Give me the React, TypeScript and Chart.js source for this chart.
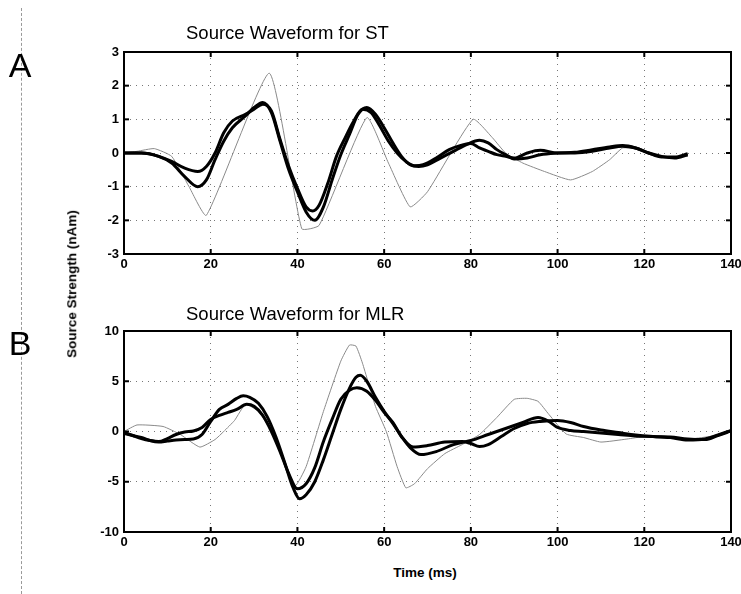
import React, { useEffect, useRef } from 'react';
import { Chart, registerables } from 'chart.js';

Chart.register(...registerables);

// ---------- Panel A: Source Waveform for ST ----------
const stTime1 = [0,4,8,11,14,17,19,21,23,25,28,30,32,34,36,38,40,42,44,46,48,50,52,54,56,58,60,62,64,66,68,70,73,76,79,82,84,86,88,90,93,96,100,104,108,112,115,118,121,124,127,130];
const stVals1 = [0,0,-0.1,-0.3,-0.7,-1.0,-0.8,-0.2,0.35,0.75,1.1,1.35,1.5,1.2,0.35,-0.5,-1.15,-1.75,-2.0,-1.6,-0.8,-0.05,0.55,1.15,1.35,1.15,0.75,0.3,-0.1,-0.35,-0.4,-0.35,-0.15,0.05,0.25,0.38,0.3,0.1,-0.05,-0.18,-0.15,-0.05,0,0.02,0.1,0.18,0.22,0.15,0.0,-0.12,-0.12,-0.02];

const stTime2 = [0,4,8,11,14,17,19,21,23,25,28,30,32,34,36,38,40,42,43.5,45,47,49,51,53,55,57,59,61,63,65,67,69,72,75,77.5,80,82,84,86,88,90,93,96,100,104,108,112,115,118,121,124,127,130];
const stVals2 = [0,0,-0.1,-0.25,-0.45,-0.55,-0.4,0.0,0.6,0.95,1.15,1.3,1.45,1.25,0.4,-0.4,-1.05,-1.6,-1.72,-1.55,-0.9,-0.1,0.45,0.95,1.3,1.2,0.8,0.35,0.0,-0.25,-0.38,-0.35,-0.15,0.1,0.22,0.28,0.15,0.05,-0.05,-0.1,-0.15,0.0,0.08,0,0.0,0.05,0.15,0.2,0.15,0.0,-0.1,-0.15,-0.05];

const stTimeG = [0,3,7,11,15,19,33.5,41,45,56,61,66,70,80.5,85,88,92,97,103,108,112,115,118,122,126,130];
const stValsG = [0,0.05,0.13,-0.1,-1.0,-1.85,2.37,-2.25,-2.15,1.05,-0.3,-1.6,-1.15,1.0,0.45,0.0,-0.3,-0.55,-0.8,-0.55,-0.2,0.15,0.12,-0.05,-0.15,-0.1];

// ---------- Panel B: Source Waveform for MLR ----------
const mlrTime1 = [0,2,4,6,8,10,12,14,16,18,20,22,24,26,27.5,29,31,33,35,37,39,40.5,42,44,46,48,50,52,53.5,54.5,56,58,60,62,64,66,68.5,72,76,80,84,88,92,95.5,98,100,103,106,110,114,118,122,126,130,134,137,140];
const mlrVals1 = [-0.2,-0.4,-0.6,-0.9,-1.05,-0.95,-0.85,-0.8,-0.75,-0.3,1.0,2.2,2.7,3.3,3.55,3.4,2.8,1.5,-0.5,-3.0,-5.6,-6.7,-6.3,-5.0,-2.8,-0.3,2.2,4.3,5.4,5.6,5.0,3.4,2.0,0.8,-0.5,-1.6,-2.3,-2.0,-1.3,-0.9,-0.3,0.3,0.9,1.4,1.0,0.4,0.1,0.0,-0.15,-0.3,-0.45,-0.5,-0.6,-0.85,-0.75,-0.35,0.1];

const mlrTime2 = [0,2,4,6,8,10,12,14,16,18,20,22,24,26,28.3,30,32,34,36,38,40,42,44,46,48,50,52,53.7,56,58,60,62,64,66.7,70,74,78,80,82,84,87,90,93,96,100,103,106,110,114,118,122,126,130,134,137,140];
const mlrVals2 = [-0.1,-0.4,-0.7,-0.9,-1.0,-0.7,-0.3,-0.05,0.05,0.4,1.2,1.6,1.9,2.2,2.7,2.5,1.6,0.0,-2.0,-4.2,-5.7,-5.2,-3.6,-1.0,1.2,3.2,4.1,4.35,4.0,3.1,1.9,0.9,-0.5,-1.55,-1.4,-1.05,-1.0,-1.2,-1.5,-1.3,-0.5,0.3,0.8,1.0,1.1,0.9,0.5,0.15,-0.1,-0.35,-0.5,-0.55,-0.75,-0.8,-0.4,0.05];

const mlrTimeG = [0,3,9,13,17.5,21,23,25.5,28,31,34,37,39.5,42,46,50,52,53.5,55,58,60.5,63,65,67,70,74,78,82,86,90,93,95.5,98,102,106,110,116,120,125,130,135,140];
const mlrValsG = [0,0.65,0.5,-0.3,-1.55,-0.8,0.0,1.1,2.7,2.0,0.0,-3.0,-5.4,-3.5,2.0,7.0,8.6,8.5,6.8,2.5,0.0,-3.5,-5.6,-5.2,-3.7,-2.2,-1.3,-0.3,1.4,3.2,3.3,3.0,1.7,-0.25,-0.6,-1.05,-0.75,-0.5,-0.55,-0.75,-0.5,0.0];

// ---------- Axes ----------
const timeMin = 0;
const timeMax = 140;
const timeStep = 20;
const stYMin = -3, stYMax = 3, stYStep = 1;
const mlrYMin = -10, mlrYMax = 10, mlrYStep = 5;

const titleST = 'Source Waveform for ST';
const titleMLR = 'Source Waveform for MLR';
const yTitle = 'Source Strength (nAm)';
const xTitle = 'Time (ms)';

const toPts = (t: number[], v: number[]) => t.map((x, i) => ({ x, y: v[i] }));

const tickFont = { family: "'Liberation Sans Narrow', 'Liberation Sans', Arial, sans-serif", size: 13, weight: 'bold' as const };

const framePlugin = {
  id: 'frame',
  afterDatasetsDraw(chart: any) {
    const { ctx, chartArea: a, scales } = chart;
    ctx.save();
    ctx.strokeStyle = '#000';
    ctx.lineWidth = 2;
    ctx.strokeRect(a.left, a.top, a.right - a.left, a.bottom - a.top);
    const tl = 5;
    const seg = (x1: number, y1: number, x2: number, y2: number) => {
      ctx.beginPath();
      ctx.moveTo(x1, y1);
      ctx.lineTo(x2, y2);
      ctx.stroke();
    };
    scales.x.ticks.forEach((t: any) => {
      const px = scales.x.getPixelForValue(t.value);
      seg(px, a.top, px, a.top + tl);
      seg(px, a.bottom, px, a.bottom - tl);
    });
    scales.y.ticks.forEach((t: any) => {
      const py = scales.y.getPixelForValue(t.value);
      seg(a.left, py, a.left + tl, py);
      seg(a.right, py, a.right - tl, py);
    });
    ctx.restore();
  },
};

function makeChart(canvas: HTMLCanvasElement, padTop: number, yMin: number, yMax: number, yStep: number, s1: any[], s2: any[], sg: any[]) {
  return new Chart(canvas, {
    type: 'line',
    data: {
      datasets: [
        { data: s1, borderColor: '#000', borderWidth: 3, pointRadius: 0, fill: false, cubicInterpolationMode: 'monotone' },
        { data: s2, borderColor: '#000', borderWidth: 3, pointRadius: 0, fill: false, cubicInterpolationMode: 'monotone' },
        { data: sg, borderColor: '#8a8a8a', borderWidth: 1, pointRadius: 0, fill: false, tension: 0.15 },
      ],
    },
    options: {
      responsive: false,
      animation: false,
      events: [],
      layout: { padding: { top: padTop, right: 10, left: 0, bottom: 0 } },
      plugins: { legend: { display: false }, tooltip: { enabled: false }, title: { display: false } },
      scales: {
        x: {
          type: 'linear',
          min: timeMin,
          max: timeMax,
          ticks: { stepSize: timeStep, color: '#000', font: tickFont, padding: 3, maxRotation: 0 },
          grid: { color: '#777', lineWidth: 1, drawTicks: false },
          border: { display: false, dash: [1, 5] },
          afterFit: (s: any) => { s.height = 24; s.paddingLeft = 0; s.paddingRight = 0; },
        },
        y: {
          type: 'linear',
          min: yMin,
          max: yMax,
          ticks: { stepSize: yStep, color: '#000', font: tickFont, padding: 5 },
          grid: { color: '#777', lineWidth: 1, drawTicks: false },
          border: { display: false, dash: [1, 5] },
          afterFit: (s: any) => { s.width = 124; },
        },
      },
    },
    plugins: [framePlugin],
  } as any);
}

export default function App() {
  const refA = useRef<HTMLCanvasElement>(null);
  const refB = useRef<HTMLCanvasElement>(null);

  useEffect(() => {
    const a = makeChart(refA.current!, 52, stYMin, stYMax, stYStep, toPts(stTime1, stVals1), toPts(stTime2, stVals2), toPts(stTimeG, stValsG));
    const b = makeChart(refB.current!, 51, mlrYMin, mlrYMax, mlrYStep, toPts(mlrTime1, mlrVals1), toPts(mlrTime2, mlrVals2), toPts(mlrTimeG, mlrValsG));
    return () => { a.destroy(); b.destroy(); };
  }, []);

  const sans = "'Liberation Sans', Arial, sans-serif";
  return (
    <div style={{ position: 'absolute', left: 0, top: 0, width: 741, height: 594, background: '#fff', overflow: 'hidden' }}>
      <div style={{ position: 'absolute', left: 21, top: 8, width: 0, height: 586, borderLeft: '1px dashed #999' }} />
      <canvas ref={refA} width={741} height={278} style={{ position: 'absolute', left: 0, top: 0, width: 741, height: 278 }} />
      <canvas ref={refB} width={741} height={276} style={{ position: 'absolute', left: 0, top: 280, width: 741, height: 276 }} />
      <div style={{ position: 'absolute', left: 186, top: 24, fontFamily: sans, fontSize: 18.5, lineHeight: 1, whiteSpace: 'nowrap', color: '#000' }}>{titleST}</div>
      <div style={{ position: 'absolute', left: 186, top: 305, fontFamily: sans, fontSize: 18.5, lineHeight: 1, whiteSpace: 'nowrap', color: '#000' }}>{titleMLR}</div>
      <div style={{ position: 'absolute', left: 72, top: 284, transform: 'translate(-50%, -50%) rotate(-90deg)', fontFamily: sans, fontWeight: 'bold', fontSize: 13.5, lineHeight: 1, whiteSpace: 'nowrap', color: '#000' }}>{yTitle}</div>
      <div style={{ position: 'absolute', left: 425, top: 573, transform: 'translate(-50%, -50%)', fontFamily: sans, fontWeight: 'bold', fontSize: 13.5, lineHeight: 1, whiteSpace: 'nowrap', color: '#000' }}>{xTitle}</div>
      <div style={{ position: 'absolute', left: 20, top: 65, transform: 'translate(-50%, -50%)', fontFamily: sans, fontSize: 34, lineHeight: 1, color: '#000' }}>A</div>
      <div style={{ position: 'absolute', left: 20, top: 343, transform: 'translate(-50%, -50%)', fontFamily: sans, fontSize: 34, lineHeight: 1, color: '#000' }}>B</div>
    </div>
  );
}
